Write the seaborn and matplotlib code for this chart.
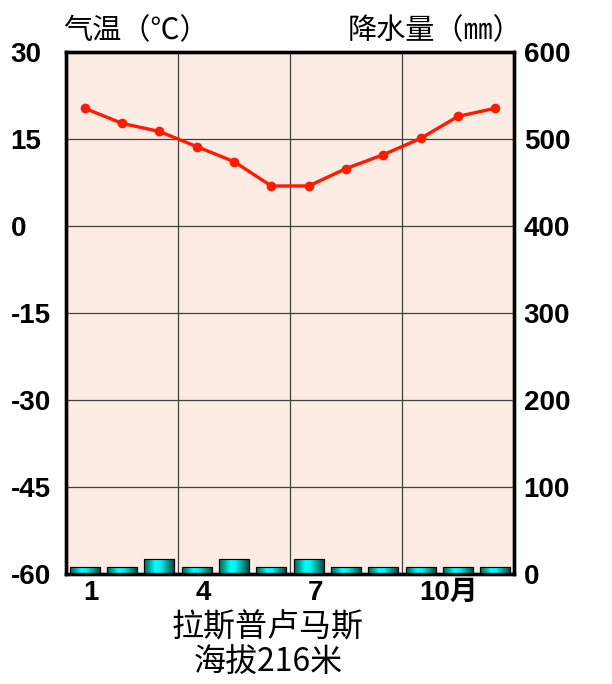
import numpy as np
import pandas as pd
import matplotlib
matplotlib.use("Agg")
import matplotlib.pyplot as plt
from matplotlib.colors import LinearSegmentedColormap
import matplotlib.transforms as mtransforms
import seaborn as sns

# Monthly climate data
months = list(range(1, 13))
temperature = [20.3, 17.7, 16.3, 13.7, 11.1, 6.9, 6.9, 9.9, 12.3, 15.1, 18.9, 20.3]
precipitation = [8, 8, 17, 8, 17, 8, 17, 8, 8, 8, 8, 8]
month_ticks = [1, 4, 7, 10]
month_labels = ["1", "4", "7", "10月"]
temp_ticks = [30, 15, 0, -15, -30, -45, -60]
precip_ticks = [600, 500, 400, 300, 200, 100, 0]

df = pd.DataFrame({"month": months, "temp": temperature, "precip": precipitation})

sns.set_style("white")
plt.rcParams["font.family"] = ["Liberation Sans", "Noto Sans CJK SC", "DejaVu Sans"]
plt.rcParams["text.color"] = "black"
plt.rcParams["xtick.color"] = "black"
plt.rcParams["ytick.color"] = "black"

fig = plt.figure(figsize=(6.12, 6.84), dpi=100)
ax = fig.add_axes([66 / 612, 1 - 574 / 684, 448 / 612, 522 / 684])
ax2 = ax.twinx()

ax.set_facecolor("#fdece4")
ax2.patch.set_visible(False)

# precipitation bars on right axis
sns.barplot(data=df, x="month", y="precip", ax=ax2, native_scale=True,
            width=0.8, color="#00e0e0", edgecolor="black", linewidth=0.8,
            errorbar=None)

cmap = LinearSegmentedColormap.from_list(
    "bar", [(0, "#00604f"), (0.38, "#00ffff"), (0.55, "#00f2f0"), (1, "#004e44")])
grad = np.linspace(0, 1, 64).reshape(1, -1)
for p in list(ax2.patches):
    x0, y0 = p.get_x(), p.get_y()
    w, h = p.get_width(), p.get_height()
    im = ax2.imshow(grad, cmap=cmap, extent=[x0, x0 + w, y0, y0 + h],
                    aspect="auto", zorder=p.get_zorder() + 0.1)
    im.set_clip_path(p)
    edge = plt.Rectangle((x0, y0), w, h, fill=False, edgecolor="black",
                         linewidth=0.8, zorder=p.get_zorder() + 0.2)
    ax2.add_patch(edge)

# temperature line on left axis
sns.lineplot(data=df, x="month", y="temp", ax=ax, color="#ff1a00",
             linewidth=2.4, marker="o", markersize=7, markeredgewidth=0,
             zorder=5)

ax.set_xlim(0.5, 12.5)
ax.set_ylim(-60, 30)
ax2.set_ylim(0, 600)

ax.set_xticks(month_ticks)
ax.set_xticklabels(month_labels)
ax.set_xticks([3.5, 6.5, 9.5], minor=True)
ax.set_yticks(temp_ticks)
ax.set_yticklabels([str(t) for t in temp_ticks])
ax2.set_yticks(precip_ticks)
ax2.set_yticklabels([str(t) for t in precip_ticks])

ax.grid(True, which="minor", axis="x", color="#404040", linewidth=0.9)
ax.grid(True, which="major", axis="y", color="#404040", linewidth=0.9)
ax.set_axisbelow(True)

ax.set_xlabel("")
ax.set_ylabel("")
ax2.set_xlabel("")
ax2.set_ylabel("")

ax.tick_params(axis="both", which="both", length=0, labelcolor="black")
ax2.tick_params(axis="both", which="both", length=0, labelcolor="black")
ax.tick_params(axis="y", pad=40, labelsize=20)
ax.tick_params(axis="x", pad=4, labelsize=20)
ax2.tick_params(axis="y", pad=7, labelsize=20)

for lab in ax.get_yticklabels():
    lab.set_horizontalalignment("left")
    lab.set_fontweight("bold")
for lab in ax2.get_yticklabels():
    lab.set_fontweight("bold")
shift = mtransforms.ScaledTranslation(-1 / 100, 0, fig.dpi_scale_trans)
for lab in ax.get_xticklabels():
    lab.set_horizontalalignment("left")
    lab.set_fontweight("bold")
    lab.set_transform(lab.get_transform() + shift)

for a in (ax, ax2):
    for s in a.spines.values():
        s.set_visible(True)
        s.set_color("black")
        s.set_linewidth(2.4)

cjk = ["Noto Sans CJK SC", "DejaVu Sans"]
fig.text(63 / 612, 1 - 31 / 684, "气温（℃）", fontsize=21, family=cjk,
         ha="left", va="center", color="black")
fig.text(522 / 612, 1 - 31 / 684, "降水量（㎜）", fontsize=21, family=cjk,
         ha="right", va="center", color="black")
fig.text(268 / 612, 1 - 628 / 684, "拉斯普卢马斯", fontsize=23, family=cjk,
         ha="center", va="center", fontweight="medium", color="black")
fig.text(268 / 612, 1 - 662 / 684, "海拔216米", fontsize=23, family=cjk,
         ha="center", va="center", fontweight="medium", color="black")

fig.savefig("out.png", dpi=100)
